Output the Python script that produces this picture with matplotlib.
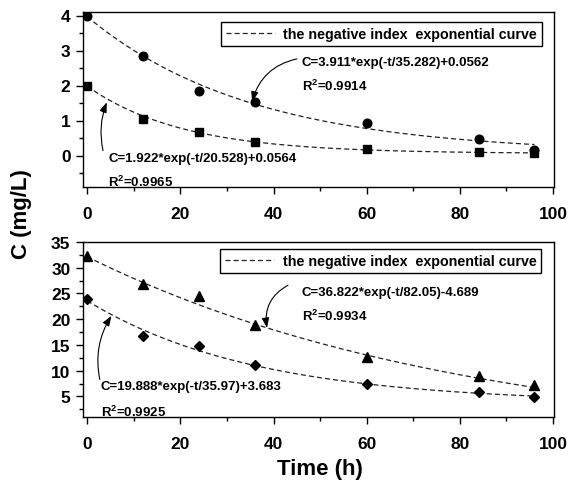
import numpy as np
import matplotlib
matplotlib.use("Agg")
import matplotlib.pyplot as plt
from matplotlib.ticker import MultipleLocator

plt.rcParams['font.family'] = ['Liberation Sans', 'DejaVu Sans']
plt.rcParams['font.weight'] = 'bold'
plt.rcParams['mathtext.fontset'] = 'custom'
plt.rcParams['mathtext.rm'] = 'Liberation Sans:bold'
plt.rcParams['mathtext.bf'] = 'Liberation Sans:bold'
plt.rcParams['mathtext.it'] = 'Liberation Sans:bold'
plt.rcParams['mathtext.default'] = 'bf'

# ---- data ----
time_h = [0, 12, 24, 36, 60, 84, 96]
top_circle = [4.0, 2.85, 1.85, 1.52, 0.93, 0.48, 0.15]
top_square = [2.0, 1.05, 0.68, 0.40, 0.20, 0.09, 0.06]
bot_triangle = [32.2, 26.8, 24.5, 18.9, 12.7, 9.0, 7.3]
bot_diamond = [24.0, 16.8, 14.7, 11.2, 7.4, 5.8, 4.9]

# fit parameters: C = A*exp(-t/tau) + c0
fit_circle = (3.911, 35.282, 0.0562)
fit_square = (1.922, 20.528, 0.0564)
fit_triangle = (36.822, 82.05, -4.689)
fit_diamond = (19.888, 35.97, 3.683)

eq_circle = "C=3.911*exp(-t/35.282)+0.0562"
r2_circle = "R$^2$=0.9914"
eq_square = "C=1.922*exp(-t/20.528)+0.0564"
r2_square = "R$^2$=0.9965"
eq_triangle = "C=36.822*exp(-t/82.05)-4.689"
r2_triangle = "R$^2$=0.9934"
eq_diamond = "C=19.888*exp(-t/35.97)+3.683"
r2_diamond = "R$^2$=0.9925"
legend_label = "the negative index  exponential curve"


def fit(p, t):
    A, tau, c0 = p
    return A * np.exp(-t / tau) + c0


W, H = 569, 485
fig = plt.figure(figsize=(W / 100, H / 100), dpi=100)
ax1 = fig.add_axes([83 / W, 1 - 188 / H, 471 / W, 175 / H])
ax2 = fig.add_axes([83 / W, 1 - 418 / H, 471 / W, 175 / H])

tt = np.linspace(0, 96, 300)
dash_kw = dict(color='#222222', lw=0.9, ls=(0, (4, 2.5)))
arrow_kw = dict(arrowstyle='-|>,head_length=0.6,head_width=0.22', color='black', lw=0.8,
                shrinkA=0, shrinkB=0)

# top panel
ax1.plot(tt, fit(fit_circle, tt), label=legend_label, **dash_kw)
ax1.plot(tt, fit(fit_square, tt), **dash_kw)
ax1.plot(time_h, top_circle, 'o', color='black', ms=6.2)
ax1.plot(time_h, top_square, 's', color='black', ms=5.5)
ax1.set_ylim(-0.9, 4.1)
ax1.yaxis.set_major_locator(MultipleLocator(1))
ax1.yaxis.set_minor_locator(MultipleLocator(0.5))

ax1.text(46.1, 2.67, eq_circle, fontsize=9.5, fontweight='bold', va='center', ha='left')
ax1.text(46.1, 1.99, r2_circle, fontsize=9.5, fontweight='bold', va='center', ha='left')
ax1.text(4.5, -0.085, eq_square, fontsize=9.5, fontweight='bold', va='center', ha='left')
ax1.text(4.5, -0.73, r2_square, fontsize=9.5, fontweight='bold', va='center', ha='left')
ax1.annotate('', xy=(35.4, 1.54), xytext=(45.0, 2.76),
             arrowprops=dict(connectionstyle='arc3,rad=0.3', **arrow_kw))
ax1.annotate('', xy=(4.2, 1.52), xytext=(3.4, 0.14),
             arrowprops=dict(connectionstyle='arc3,rad=-0.15', **arrow_kw))

# bottom panel
ax2.plot(tt, fit(fit_triangle, tt), label=legend_label, **dash_kw)
ax2.plot(tt, fit(fit_diamond, tt), **dash_kw)
ax2.plot(time_h, bot_triangle, '^', color='black', ms=7)
ax2.plot(time_h, bot_diamond, 'D', color='black', ms=5.5)
ax2.set_ylim(1, 35)
ax2.yaxis.set_major_locator(MultipleLocator(5))
ax2.yaxis.set_minor_locator(MultipleLocator(2.5))

ax2.text(46.1, 25.3, eq_triangle, fontsize=9.5, fontweight='bold', va='center', ha='left')
ax2.text(46.1, 20.8, r2_triangle, fontsize=9.5, fontweight='bold', va='center', ha='left')
ax2.text(2.94, 7.0, eq_diamond, fontsize=9.5, fontweight='bold', va='center', ha='left')
ax2.text(2.94, 2.13, r2_diamond, fontsize=9.5, fontweight='bold', va='center', ha='left')
ax2.annotate('', xy=(38.6, 18.3), xytext=(43.1, 26.6),
             arrowprops=dict(connectionstyle='arc3,rad=0.35', **arrow_kw))
ax2.annotate('', xy=(5.2, 20.65), xytext=(2.7, 8.3),
             arrowprops=dict(connectionstyle='arc3,rad=-0.2', **arrow_kw))

for ax, anchor in ((ax1, (0.975, 0.943)), (ax2, (0.973, 0.96))):
    ax.set_xlim(-0.9, 100.2)
    ax.xaxis.set_major_locator(MultipleLocator(20))
    ax.xaxis.set_minor_locator(MultipleLocator(10))
    ax.tick_params(axis='both', which='major', direction='out', length=5, width=1,
                   labelsize=12.5)
    ax.tick_params(axis='both', which='minor', direction='out', length=3, width=1)
    ax.tick_params(axis='x', which='major', pad=9)
    ax.tick_params(axis='y', which='major', pad=4)
    for lab in ax.get_xticklabels() + ax.get_yticklabels():
        lab.set_fontweight('bold')
    for sp in ax.spines.values():
        sp.set_linewidth(1)
    leg = ax.legend(loc='upper right', bbox_to_anchor=anchor, borderaxespad=0,
                    fancybox=False, edgecolor='black', framealpha=1,
                    prop={'size': 10.3, 'weight': 'bold'},
                    handlelength=3.4, handletextpad=0.6, borderpad=0.35)
    leg.get_frame().set_linewidth(1)

ax2.set_xlabel('Time (h)', fontsize=16, fontweight='bold')
ax2.xaxis.set_label_coords(0.503, -0.297)
ax2.xaxis.label.set_va('center')

fig.text(22 / W, 1 - 214 / H, 'C (mg/L)', rotation=90, fontsize=16, fontweight='bold',
         ha='center', va='center')

fig.savefig('out.png', dpi=100)
